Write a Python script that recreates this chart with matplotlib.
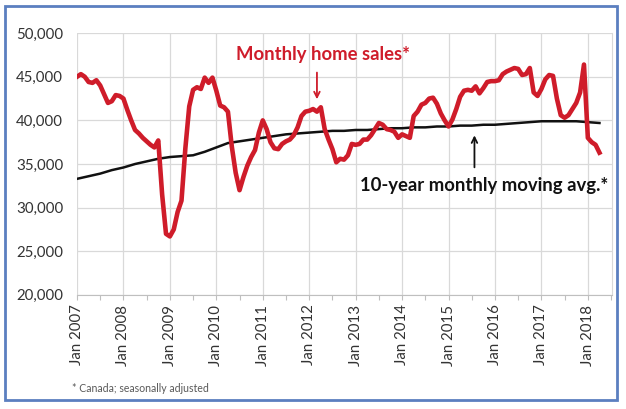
import numpy as np
import matplotlib
matplotlib.use('Agg')
import matplotlib.pyplot as plt
from matplotlib.patches import Rectangle

plt.rcParams['font.family'] = ['Lato', 'DejaVu Sans']

# monthly home sales, Jan 2007 .. Apr 2018
sales = [
    45000, 45300, 45000, 44400, 44300, 44600, 44000, 43000, 42000, 42200, 42900, 42800,  # 2007
    42500, 41200, 40000, 38900, 38500, 38000, 37600, 37200, 36900, 37700, 31500, 27000,  # 2008
    26700, 27500, 29500, 30800, 36800, 41600, 43500, 43800, 43600, 44900, 44300, 44900,  # 2009
    43400, 41700, 41500, 41000, 37000, 34000, 32000, 33500, 34800, 35800, 36600, 38600,  # 2010
    40000, 39000, 37500, 36800, 36700, 37300, 37600, 37800, 38300, 39200, 40500, 41000,  # 2011
    41100, 41300, 41000, 41500, 39000, 37800, 36700, 35200, 35600, 35500, 36000, 37300,  # 2012
    37200, 37300, 37800, 37800, 38300, 39000, 39700, 39500, 39000, 38900, 38700, 38000,  # 2013
    38400, 38200, 38000, 40500, 41000, 41800, 42000, 42500, 42600, 41900, 40800, 40000,  # 2014
    39300, 40100, 41300, 42700, 43400, 43500, 43400, 43900, 43100, 43700, 44400, 44500,  # 2015
    44500, 44600, 45300, 45600, 45800, 46000, 45900, 45200, 45300, 46000, 43200, 42800,  # 2016
    43600, 44700, 45200, 45100, 42500, 40600, 40300, 40600, 41300, 42000, 43200, 46400,  # 2017
    38000, 37500, 37200, 36300,                                                          # 2018
]
months = np.arange(len(sales))

# 10-year moving average, read every 3 months
avg_months = np.arange(0, 136, 3)
avg = [33300, 33600, 33900, 34300, 34600, 35000, 35300, 35600, 35800, 35900,
       36000, 36400, 36900, 37400, 37600, 37800, 38000, 38200, 38400, 38500,
       38600, 38700, 38800, 38800, 38900, 38900, 39000, 39100, 39100, 39200,
       39200, 39300, 39300, 39400, 39400, 39500, 39500, 39600, 39700, 39800,
       39900, 39900, 39900, 39900, 39800, 39700]

years = list(range(2007, 2019))
year_labels = ['Jan %d' % y for y in years]

fig = plt.figure(figsize=(6.26, 4.09), dpi=100)
ax = fig.add_axes([0.123, 0.279, 0.855, 0.640])

ax.plot(months, sales, color='#cf1c2a', lw=3.3, solid_joinstyle='round', zorder=3)
ax.plot(avg_months, avg, color='#111111', lw=1.8, zorder=2)

ax.set_xlim(0, 138.3)
ax.set_ylim(20000, 50000)
ax.set_yticks(range(20000, 50001, 5000))
ax.set_yticklabels(['{:,}'.format(v) for v in range(20000, 50001, 5000)])
ax.set_xticks([12 * i for i in range(len(years))])
ax.set_xticklabels(year_labels, rotation=90)
ax.set_xticks([12 * i + 6 for i in range(len(years))], minor=True)

ax.grid(True, color='#d9d9d9', lw=0.9)
ax.set_axisbelow(True)
for s in ['top', 'left']:
    ax.spines[s].set_visible(False)
ax.spines['right'].set_color('#d9d9d9')
ax.spines['bottom'].set_color('#bfbfbf')
ax.tick_params(axis='both', which='both', colors='#bfbfbf', labelcolor='#333333',
               labelsize=10.8, length=3.5, width=0.8)
ax.tick_params(axis='y', length=0, pad=10)

ax.annotate('', xy=(62, 42100), xytext=(62, 45800),
            arrowprops=dict(arrowstyle='->', color='#cf1c2a', lw=1.3))
ax.text(63.6, 47500, 'Monthly home sales*', color='#cf1c2a', fontsize=13.3,
        fontweight='bold', ha='center', va='center')

ax.annotate('', xy=(102.7, 38600), xytext=(102.7, 34300),
            arrowprops=dict(arrowstyle='->', color='#111111', lw=1.3))
ax.text(105.2, 32500, '10-year monthly moving avg.*', color='#111111', fontsize=13.3,
        fontweight='bold', ha='center', va='center')

fig.text(72 / 626, 1 - 388 / 409, '* Canada; seasonally adjusted', fontsize=7.6,
         color='#595959', va='center')

fig.patches.append(Rectangle((5 / 626, 0.022), 612 / 626, 0.963, transform=fig.transFigure,
                             fill=False, edgecolor='#5b7fc0', lw=2))

fig.savefig('out.png', dpi=100)
